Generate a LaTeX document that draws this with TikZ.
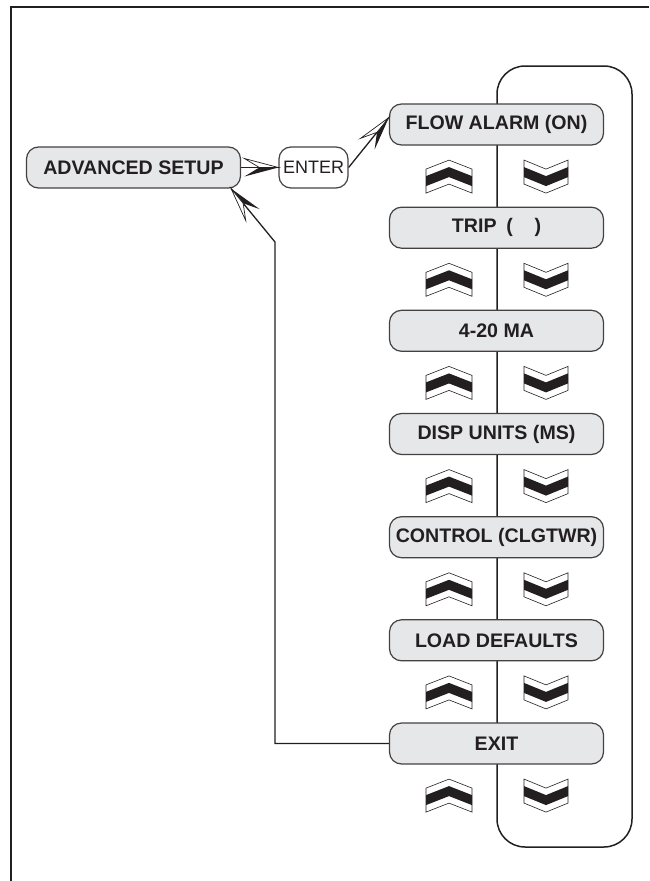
\documentclass[tikz,border=0pt]{standalone}
\usepackage{fontspec}
\setmainfont{Liberation Sans}
\usetikzlibrary{calc}
\definecolor{ink}{HTML}{231F20}
\definecolor{boxfill}{HTML}{E6E7E8}
\begin{document}
\begin{tikzpicture}[x=1pt,y=-1pt,
  menubox/.style={draw=ink!85, fill=boxfill, line width=1.2pt, rounded corners=12pt,
    minimum width=214pt, minimum height=41pt, inner sep=0pt,
    font=\fontsize{19.6}{21}\selectfont\bfseries, text=ink},
  enterbox/.style={draw=ink!85, fill=white, line width=1.2pt, rounded corners=12pt,
    minimum width=69pt, minimum height=41pt, inner sep=0pt,
    font=\fontsize{18}{20}\selectfont, text=ink},
  conn/.style={draw=ink, line width=1.3pt},
  loopline/.style={draw=ink, line width=1.5pt, rounded corners=28pt},
  barb/.pic={
    \fill[ink] (0,0) -- (-34,9) -- (-19,0) -- cycle;
    \filldraw[fill=white, draw=ink, line width=0.7pt, line join=miter] (0,0) -- (-34,-9) -- (-19,0) -- cycle;
  },
  upchev/.pic={
    \filldraw[fill=white, draw=ink, line width=0.6pt] (-23,-7.5) -- (0,-16.5) -- (23,-7.5) -- (23,16.5) -- (0,7.5) -- (-23,16.5) -- cycle;
    \fill[ink] (-23,-0.5) -- (0,-9.5) -- (23,-0.5) -- (23,9.5) -- (0,0.5) -- (-23,9.5) -- cycle;
  },
  downchev/.pic={
    \filldraw[fill=white, draw=ink, line width=0.6pt] (-22,-16.5) -- (0,-7.5) -- (22,-16.5) -- (22,7.5) -- (0,16.5) -- (-22,7.5) -- cycle;
    \fill[ink] (-22,-9.5) -- (0,-0.5) -- (22,-9.5) -- (22,0.5) -- (0,9.5) -- (-22,0.5) -- cycle;
  }
]
\useasboundingbox (0,0) rectangle (649,881);

% frame
\draw[draw=ink, line width=1.8pt] (11,881) -- (11,7) -- (649,7);

% loop
\draw[loopline] (497,66) rectangle (632,847);

% menu nodes
\node[menubox] (adv) at (133.5,167.5) {ADVANCED SETUP};
\node[enterbox] (enter) at (313.5,167.5) {ENTER};
\node[menubox] (m1) at (496.5,124.5) {FLOW ALARM (ON)};
\node[menubox] (m2) at (496.5,227.7) {TRIP\hspace{0.5em}(\hspace{1.1em})};
\node[menubox] (m3) at (496.5,330.8) {4-20 MA};
\node[menubox] (m4) at (496.5,434.0) {DISP UNITS (MS)};
\node[menubox] (m5) at (496.5,537.2) {CONTROL (CLGTWR)};
\node[menubox] (m6) at (496.5,640.3) {LOAD DEFAULTS};
\node[menubox] (m7) at (496.5,743.5) {EXIT};

% chevrons
\foreach \i in {1,...,7}{
  \pic at ($(m\i.south)+(-47.5,31)$) {upchev};
  \pic at ($(m\i.south)+(49.5,31)$) {downchev};
}

% connectors
\draw[conn] (adv.east) -- (enter.west);
\pic at (enter.west) {barb};

\coordinate (t1) at ($(m1.west)+(0,-7)$);
\draw[conn] (enter.east) -- (t1);
\path let \p1=($(t1)-(enter.east)$), \n1={atan2(\y1,\x1)} in
  (t1) pic[rotate=\n1] {barb};

\coordinate (r1) at (275,743.5);
\coordinate (r2) at (275,242);
\coordinate (t2) at ($(adv.south east)+(-10,0)$);
\draw[conn] (m7.west) -- (r1) -- (r2) -- (t2);
\path let \p1=($(t2)-(r2)$), \n1={atan2(\y1,\x1)} in
  (t2) pic[rotate=\n1] {barb};
\end{tikzpicture}
\end{document}
